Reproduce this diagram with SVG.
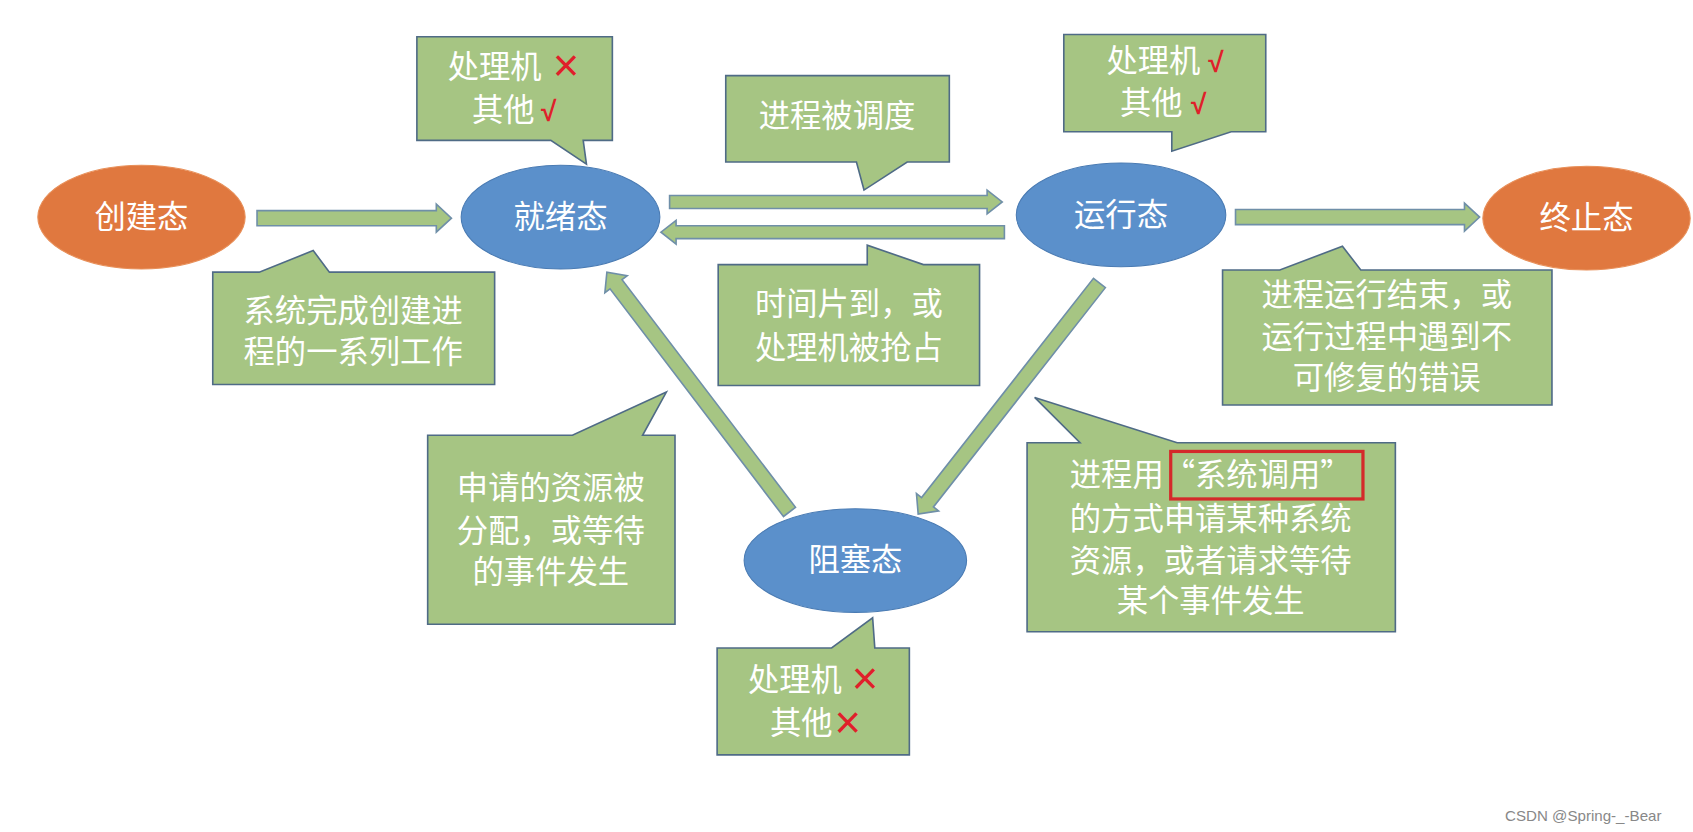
<svg xmlns="http://www.w3.org/2000/svg" width="1693" height="832" viewBox="0 0 1693 832">
<style>
.st{fill:#ffffff;font-family:"Noto Sans CJK SC","Liberation Sans",sans-serif;font-size:29px;text-anchor:middle}
.or{fill:#E0783F;stroke:#E8905a;stroke-width:1}
.bl{fill:#5B90CB;stroke:#4a7bb3;stroke-width:1}
.cl{fill:#A6C583;stroke:#4F6B86;stroke-width:1.5}
.ar{fill:#A6C583;stroke:#6F8FA8;stroke-width:1.5}
.red{fill:#E0202A;font-family:"Liberation Sans",sans-serif;text-anchor:middle}
.x{font-size:42px}
.ck{font-size:26px;font-weight:bold}
</style>
<rect width="1693" height="832" fill="#ffffff"/>
<g transform="scale(1.08,1.08)">
<g id="connectors">
<polygon class="ar" transform="translate(238,202)" points="0,-7 166,-7 166,-13 180,0 166,13 166,7 0,7"/>
<polygon class="ar" transform="translate(620,187)" points="0,-6 294,-6 294,-11 308,0 294,11 294,6 0,6"/>
<polygon class="ar" transform="translate(930,215) rotate(180)" points="0,-6 304,-6 304,-11 318,0 304,11 304,6 0,6"/>
<polygon class="ar" transform="translate(1144,201)" points="0,-7 212,-7 212,-13 226,0 212,13 212,7 0,7"/>
<polygon class="ar" transform="translate(1018,262) rotate(128.1)" points="0,-7 258,-7 258,-13 272,0 258,13 258,7 0,7"/>
<polygon class="ar" transform="translate(731,474) rotate(-127.3)" points="0,-7 265,-7 265,-13 279,0 265,13 265,7 0,7"/>
</g>
<g id="create"><ellipse class="or" cx="131" cy="201" rx="96" ry="48"/><text class="st" x="131" y="211">创建态</text></g>
<g id="ready"><ellipse class="bl" cx="519" cy="201" rx="92" ry="48"/><text class="st" x="519" y="211">就绪态</text></g>
<g id="running"><ellipse class="bl" cx="1038" cy="199" rx="97" ry="48"/><text class="st" x="1038" y="209">运行态</text></g>
<g id="terminated"><ellipse class="or" cx="1469" cy="202" rx="96" ry="48"/><text class="st" x="1469" y="212">终止态</text></g>
<g id="blocked"><ellipse class="bl" cx="792" cy="519" rx="103" ry="48"/><text class="st" x="792" y="529">阻塞态</text></g>

<g id="c-ready">
<polygon class="cl" points="386,34 567,34 567,130 540,130 543,152 510,130 386,130"/>
<text class="st" x="458" y="72">处理机</text><text x="524" y="75" class="red x">×</text>
<text class="st" x="466" y="112">其他</text><text x="508" y="112" class="red ck">√</text>
</g>
<g id="c-dispatch">
<polygon class="cl" points="672,70 879,70 879,150 840,150 800,176 793,150 672,150"/>
<text class="st" x="775" y="118">进程被调度</text>
</g>
<g id="c-running">
<polygon class="cl" points="985,32 1172,32 1172,122 1140,122 1085,140 1085,122 985,122"/>
<text class="st" x="1068" y="67">处理机</text><text x="1126" y="67" class="red ck">√</text>
<text class="st" x="1066" y="106">其他</text><text x="1110" y="106" class="red ck">√</text>
</g>
<g id="c-create">
<polygon class="cl" points="197,252 240,252 290,232 305,252 458,252 458,356 197,356"/>
<text class="st" x="327" y="298">系统完成创建进</text><text class="st" x="327" y="336">程的一系列工作</text>
</g>
<g id="c-timeslice">
<polygon class="cl" points="665,245 803,245 803,227 855,245 907,245 907,357 665,357"/>
<text class="st" x="786" y="292">时间片到，或</text><text class="st" x="786" y="332">处理机被抢占</text>
</g>
<g id="c-terminate">
<polygon class="cl" points="1132,250 1185,250 1243,228 1260,250 1437,250 1437,375 1132,375"/>
<text class="st" x="1284" y="283">进程运行结束，或</text><text class="st" x="1284" y="322">运行过程中遇到不</text><text class="st" x="1284" y="360">可修复的错误</text>
</g>
<g id="c-wakeup">
<polygon class="cl" points="396,403 530,403 617,363 595,403 625,403 625,578 396,578"/>
<text class="st" x="510" y="462">申请的资源被</text><text class="st" x="510" y="502">分配，或等待</text><text class="st" x="510" y="540">的事件发生</text>
</g>
<g id="c-block">
<polygon class="cl" points="951,410 1000,410 958,368 1090,410 1292,410 1292,585 951,585"/>
<rect x="1084" y="418" width="178" height="44" fill="none" stroke="#D42A2A" stroke-width="3"/>
<text class="st" x="1121" y="450">进程用“系统调用”</text><text class="st" x="1121" y="491">的方式申请某种系统</text><text class="st" x="1121" y="530">资源，或者请求等待</text><text class="st" x="1121" y="567">某个事件发生</text>
</g>
<g id="c-blocked">
<polygon class="cl" points="664,600 770,600 808,572 810,600 842,600 842,699 664,699"/>
<text class="st" x="736" y="640">处理机</text><text x="801" y="643" class="red x">×</text>
<text class="st" x="742" y="680">其他</text><text x="785" y="683" class="red x">×</text>
</g>
<text x="1466" y="760" style="fill:#888;font-family:'Liberation Sans',sans-serif;font-size:14px;text-anchor:middle">CSDN @Spring-_-Bear</text>
</g>
</svg>
